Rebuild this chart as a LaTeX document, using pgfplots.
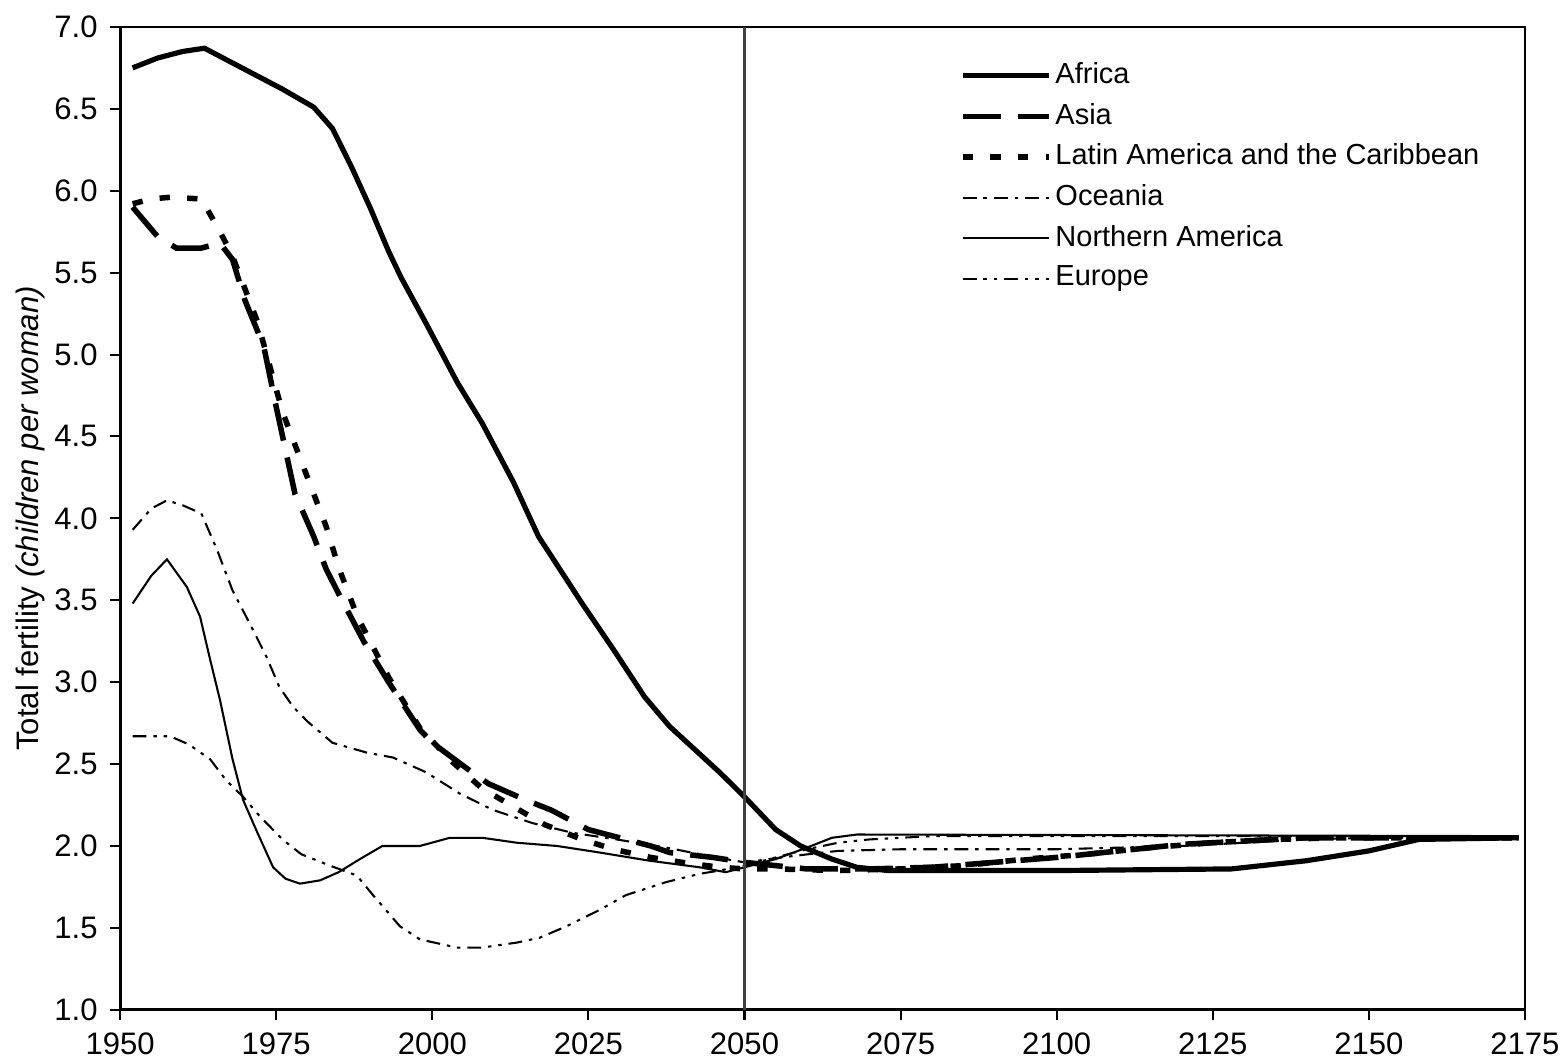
\documentclass[border=0pt]{standalone}
\usepackage{fontspec}
\setmainfont{Liberation Sans}
\usepackage{pgfplots}
\pgfplotsset{compat=1.18}
\begin{document}
\begin{tikzpicture}
\begin{axis}[
  name=ax,
  scale only axis,
  width=406.9pt, height=284.7pt,
  xmin=1950, xmax=2175, ymin=1, ymax=7,
  xtick={1950,1975,...,2175},
  ytick={1,1.5,...,7},
  tick align=outside, tick pos=left,
  major tick length=3pt,
  axis line style={black, line width=0.8pt},
  every tick/.style={black, line width=0.6pt},
  /pgf/number format/assume math mode=true,
  ticklabel style={font=\fontsize{9}{10}\selectfont},
  xticklabel style={/pgf/number format/1000 sep={}, yshift=0pt},
  yticklabel style={/pgf/number format/.cd, fixed, fixed zerofill, precision=1},
  ylabel={Total fertility \textit{(children per woman)}},
  ylabel style={font=\fontsize{9}{10}\selectfont, yshift=-4pt},
  legend style={draw=none, fill=none, at={(rel axis cs:0.59,0.975)}, anchor=north west,
    font=\fontsize{8.4}{10}\selectfont, row sep=2.2pt,
    nodes={inner sep=1pt}},
  legend cell align=left,
  legend image code/.code={\draw[#1] (0cm,0cm) -- (0.88cm,0cm);},
]
\addplot[black, line width=1.5pt] coordinates {
(1952,6.75) (1956,6.81) (1960,6.85) (1963.5,6.87) (1967,6.80) (1971,6.72) (1976,6.62) (1981,6.51) (1984,6.38) (1987,6.15) (1990,5.90) (1993,5.63) (1995,5.47) (1999,5.19) (2004,4.83) (2008,4.58) (2013,4.22) (2017,3.89) (2024,3.48) (2029,3.20) (2034,2.91) (2038,2.73) (2042,2.59) (2046,2.45) (2050,2.30) (2055,2.10) (2059,2.00) (2064,1.92) (2068,1.87) (2073,1.85) (2100,1.85) (2128,1.86) (2140,1.91) (2150,1.97) (2158,2.04) (2174,2.05)
};
\addlegendentry{Africa}
\addplot[black, line width=1.6pt, dash pattern=on 11pt off 5pt] coordinates {
(1952,5.90) (1956,5.72) (1959,5.65) (1963,5.65) (1966,5.68) (1968,5.58) (1970,5.33) (1973,5.05) (1975,4.68) (1978,4.15) (1981,3.89) (1983,3.69) (1985,3.54) (1989,3.25) (1993,3.00) (1998,2.71) (2000,2.63) (2006,2.46) (2009,2.38) (2015,2.28) (2019,2.22) (2025,2.10) (2028,2.07) (2035,2.00) (2038,1.96) (2045,1.93) (2050,1.90) (2055,1.88) (2060,1.86) (2070,1.86) (2080,1.87) (2090,1.90) (2100,1.93) (2110,1.97) (2120,2.01) (2130,2.03) (2140,2.05) (2174,2.05)
};
\addlegendentry{Asia}
\addplot[black, line width=1.6pt, dash pattern=on 3pt off 5pt] coordinates {
(1952,5.92) (1955,5.95) (1958,5.96) (1963,5.95) (1966,5.75) (1968,5.60) (1972,5.20) (1976,4.65) (1980,4.25) (1983,3.95) (1985,3.70) (1988,3.40) (1993,3.03) (1998,2.72) (2003,2.52) (2008,2.35) (2013,2.24) (2018,2.13) (2024,2.04) (2029,1.98) (2035,1.93) (2040,1.90) (2046,1.87) (2050,1.86) (2055,1.86) (2065,1.85) (2075,1.86) (2085,1.88) (2095,1.92) (2105,1.95) (2115,1.99) (2125,2.02) (2135,2.04) (2145,2.05) (2174,2.05)
};
\addlegendentry{Latin America and the Caribbean}
\addplot[black, line width=0.6pt, dash pattern=on 4pt off 2pt on 1pt off 2pt] coordinates {
(1952,3.93) (1955,4.06) (1957.5,4.11) (1960,4.08) (1963,4.03) (1965.5,3.81) (1968,3.56) (1971,3.34) (1973.5,3.15) (1975.5,2.97) (1977.7,2.85) (1980,2.76) (1984,2.63) (1989.5,2.57) (1993.7,2.54) (1999,2.45) (2004.4,2.32) (2009.7,2.22) (2016,2.14) (2022.5,2.08) (2029.5,2.04) (2037.5,1.99) (2045.5,1.93) (2050,1.90) (2058,1.94) (2065,1.97) (2075,1.98) (2100,1.98) (2120,2.00) (2140,2.04) (2150,2.05) (2174,2.05)
};
\addlegendentry{Oceania}
\addplot[black, line width=0.6pt] coordinates {
(1952,3.48) (1955,3.65) (1957.5,3.75) (1960.7,3.58) (1962.8,3.40) (1964.4,3.14) (1966,2.89) (1968,2.53) (1969.7,2.28) (1972,2.08) (1974.5,1.87) (1976.5,1.80) (1978.8,1.77) (1982,1.79) (1985,1.84) (1988.4,1.92) (1992,2.00) (1998,2.00) (2002.8,2.05) (2008,2.05) (2013.5,2.02) (2020,2.00) (2026.8,1.96) (2034.8,1.91) (2042.8,1.87) (2047,1.84) (2050,1.87) (2055,1.92) (2060,1.99) (2064,2.05) (2068,2.07) (2174,2.06)
};
\addlegendentry{Northern America}
\addplot[black, line width=0.6pt, dash pattern=on 4pt off 2pt on 1pt off 2pt on 1pt off 2pt] coordinates {
(1952,2.67) (1958,2.67) (1961,2.62) (1964.4,2.53) (1967,2.40) (1969.7,2.30) (1972.4,2.18) (1976,2.04) (1979,1.95) (1983.6,1.88) (1987.9,1.82) (1990.5,1.70) (1992.1,1.63) (1994.8,1.51) (1998,1.43) (2003.9,1.38) (2008,1.38) (2013.5,1.41) (2017.2,1.44) (2021.5,1.51) (2026.8,1.61) (2031,1.70) (2037.5,1.78) (2042.8,1.83) (2046,1.85) (2050,1.88) (2055,1.93) (2060,1.98) (2065,2.02) (2070,2.04) (2080,2.06) (2174,2.06)
};
\addlegendentry{Europe}
\draw[black!75, line width=0.7pt] (axis cs:2050,1) -- (axis cs:2050,7);
\end{axis}
\pgfresetboundingbox
\path ([shift={(-34.8pt,-15.5pt)}]ax.south west) rectangle ([shift={(11.9pt,7.8pt)}]ax.north east);
\end{tikzpicture}
\end{document}
